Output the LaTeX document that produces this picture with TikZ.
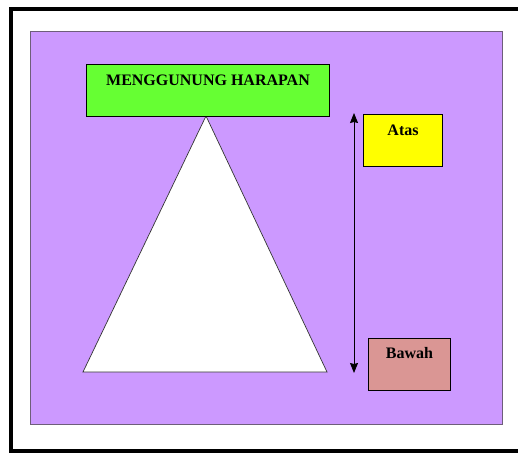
\documentclass[tikz,border=0pt]{standalone}
\usepackage{fontspec}
\setmainfont{Liberation Serif}
\usetikzlibrary{arrows.meta}
\definecolor{panel}{HTML}{CC99FF}
\definecolor{panelline}{HTML}{6E5E7A}
\definecolor{titlegreen}{HTML}{66FF33}
\definecolor{topyellow}{HTML}{FFFF00}
\definecolor{bottomrose}{HTML}{DA9694}
\tikzset{
  box/.style={draw=black, line width=1pt, inner sep=0pt, anchor=north west},
  boxtext/.style={font=\bfseries\fontsize{16}{18}\selectfont, inner sep=0pt, anchor=north},
  axis/.style={line width=0.9pt, {Stealth[length=10pt,width=8pt,inset=1pt]}-{Stealth[length=10pt,width=8pt,inset=1pt]}}
}
\begin{document}
\begin{tikzpicture}[x=1pt,y=-1pt]
  \useasboundingbox (0,0) rectangle (518,452);
  % outer page frame
  \begin{scope}
    \clip (0,0) rectangle (518,452);
    \draw[line width=4pt] (530,9) -- (11,9) -- (11,451) -- (530,451);
  \end{scope}
  % background panel
  \draw[fill=panel, draw=panelline, line width=1pt] (30,32) rectangle (502,424);
  % mountain of hope
  \draw[fill=white, draw=black!80, line width=0.7pt] (206,116) -- (327,372) -- (83,372) -- cycle;
  % title box
  \node[box, fill=titlegreen, minimum width=243pt, minimum height=52pt] (title) at (86,64) {};
  \node[boxtext] (titletext) at ([yshift=-10.5pt]title.north) {MENGGUNUNG HARAPAN};
  % level boxes
  \node[box, fill=topyellow, minimum width=79pt, minimum height=52pt] (atas) at (363,114) {};
  \node[boxtext] (atastext) at ([yshift=-10.5pt]atas.north) {Atas};
  \node[box, fill=bottomrose, minimum width=82pt, minimum height=52pt] (bawah) at (368,338) {};
  \node[boxtext] (bawahtext) at ([yshift=-9.5pt]bawah.north) {Bawah};
  % vertical double arrow
  \coordinate (up) at (354,113);
  \coordinate (down) at (354,373);
  \draw[axis] (up) -- (down);
\end{tikzpicture}
\end{document}
